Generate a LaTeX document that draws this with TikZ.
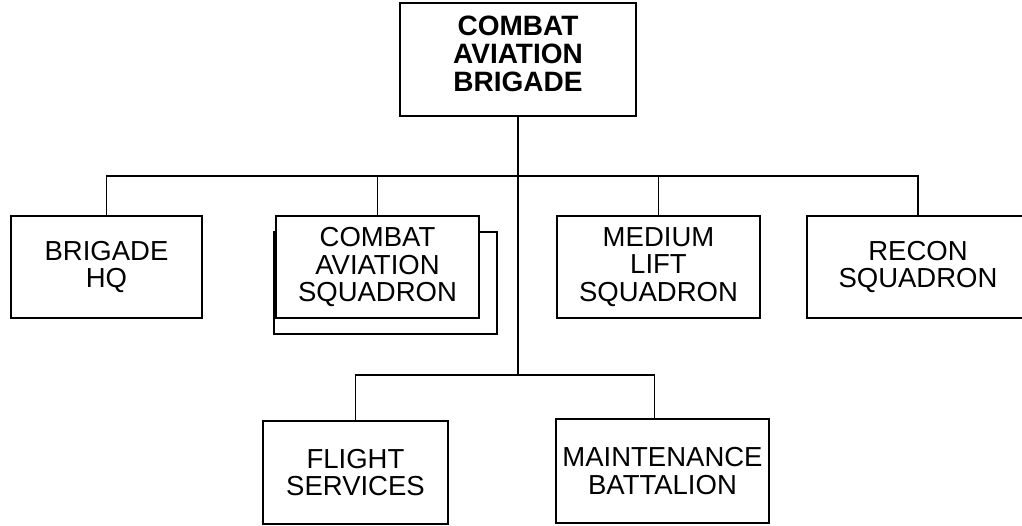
\documentclass[tikz,border=0pt]{standalone}
\usepackage{fontspec}
\setmainfont{Liberation Sans}
\begin{document}
\begin{tikzpicture}[x=1pt,y=-1pt,line width=1.2pt,
  unit/.style={draw,fill=white,align=center,inner sep=0pt,font=\fontsize{27.5}{27.5}\selectfont},
  chief/.style={unit,text depth=12pt,font=\fontsize{28}{28}\selectfont\bfseries}]
\useasboundingbox (0,0) rectangle (1022,525);
\node[chief,minimum width=236,minimum height=113] (cab) at (518,59.5) {COMBAT\\AVIATION\\BRIGADE};
\node[unit,minimum width=191,minimum height=102] (hq) at (106.5,267) {BRIGADE\\HQ};
\node[unit,minimum width=223,minimum height=102] (casb) at (385.5,283) {};
\node[unit,minimum width=203,minimum height=102] (cas) at (377.5,267) {COMBAT\\AVIATION\\SQUADRON};
\node[unit,minimum width=203,minimum height=102] (mls) at (658.5,267) {MEDIUM\\LIFT\\SQUADRON};
\node[unit,minimum width=222,minimum height=102] (rcn) at (918,267) {RECON\\SQUADRON};
\node[unit,minimum width=185,minimum height=103] (fsv) at (355.5,472.5) {FLIGHT\\SERVICES};
\node[unit,minimum width=213,minimum height=104] (mnt) at (662.5,471) {MAINTENANCE\\BATTALION};
\coordinate (top) at (518,176);
\coordinate (low) at (518,375);
\draw (cab.south) -- (low);
\draw (hq.north) |- (top) -| (rcn.north);
\draw (cas.north) -- (cas.north |- top);
\draw (mls.north) -- (mls.north |- top);
\draw (fsv.north) |- (low) -| ([xshift=-8pt]mnt.north);
\end{tikzpicture}
\end{document}
